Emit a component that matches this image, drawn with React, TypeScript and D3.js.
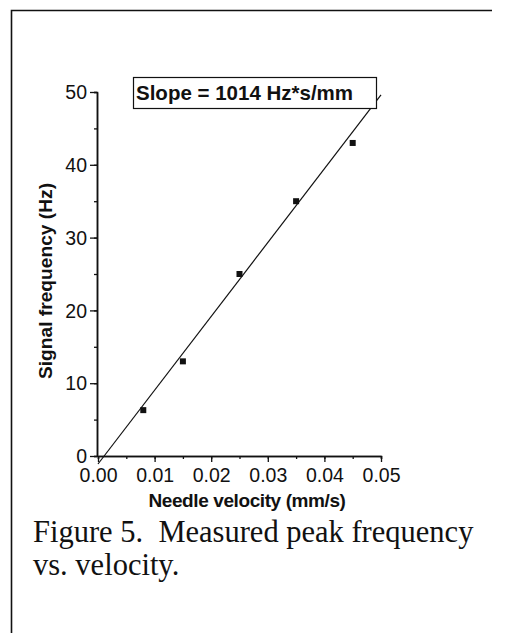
import React, { useRef, useEffect } from 'react';
import * as d3 from 'd3';

const velocities = [0.008, 0.015, 0.025, 0.035, 0.045];
const frequencies = [6.3, 13, 25, 35, 43];
const fitSlope = 1014;
const fitIntercept = -1.1;
const xTicks = [0, 0.01, 0.02, 0.03, 0.04, 0.05];
const yTicks = [0, 10, 20, 30, 40, 50];
const slopeLabel = 'Slope = 1014 Hz*s/mm';
const captionLines = ['Figure 5.  Measured peak frequency', 'vs. velocity.'];

const App = () => {
  const svgRef = useRef<SVGSVGElement>(null);

  useEffect(() => {
    const svg = d3.select(svgRef.current);
    svg.selectAll('*').remove();
    const width = 505;
    const height = 633;
    const sans = 'Arial, "Liberation Sans", Helvetica, sans-serif';
    const serif = '"Times New Roman", "Liberation Serif", serif';

    svg.append('rect').attr('width', width).attr('height', height).attr('fill', 'white');

    // page frame (only top and left edges show)
    svg.append('path')
      .attr('d', `M11.5,${height} L11.5,10.5 L492,10.5`)
      .attr('fill', 'none')
      .attr('stroke', '#111')
      .attr('stroke-width', 1.6);

    const x = d3.scaleLinear().domain([0, 0.05]).range([98, 381]);
    const y = d3.scaleLinear().domain([0, 50]).range([456, 92]);

    const minorX = d3.range(0, 0.0501, 0.005);
    const minorY = d3.range(0, 50.1, 5);

    const xAxis = svg.append('g').attr('transform', `translate(0,${y(0)})`);
    xAxis.call(d3.axisBottom(x).tickValues(minorX).tickSize(3).tickFormat(() => ''));
    xAxis.append('g').call(d3.axisBottom(x).tickValues(xTicks).tickSize(6).tickSizeOuter(0).tickFormat(d3.format('.2f')));

    const yAxis = svg.append('g').attr('transform', `translate(${x(0) - 1},0)`);
    yAxis.call(d3.axisLeft(y).tickValues(minorY).tickSize(3).tickFormat(() => ''));
    yAxis.append('g').call(d3.axisLeft(y).tickValues(yTicks).tickSize(7).tickSizeOuter(0));

    svg.selectAll('.domain').attr('stroke', '#111').attr('stroke-width', 1.5);
    svg.selectAll('.tick line').attr('stroke', '#111').attr('stroke-width', 1.3);
    svg.selectAll('.tick text')
      .attr('font-family', sans)
      .attr('font-size', 19.5)
      .attr('fill', '#111');
    xAxis.selectAll('.tick text').attr('y', 8).attr('dy', '0.9em');
    yAxis.selectAll('.tick text').attr('x', -10).attr('dy', '0.34em');

    // regression line
    const fit = d3.line<number>()
      .x(v => x(v))
      .y(v => y(fitSlope * v + fitIntercept));
    svg.append('path')
      .datum([0, 0.05])
      .attr('d', fit)
      .attr('fill', 'none')
      .attr('stroke', '#111')
      .attr('stroke-width', 1.2);

    // measured points
    svg.append('g')
      .selectAll('rect')
      .data(velocities)
      .enter()
      .append('rect')
      .attr('x', (d) => x(d) - 3)
      .attr('y', (d, i) => y(frequencies[i]) - 3)
      .attr('width', 6)
      .attr('height', 6)
      .attr('fill', '#111');

    // slope annotation box
    svg.append('rect')
      .attr('x', 133.5)
      .attr('y', 77.5)
      .attr('width', 243)
      .attr('height', 31)
      .attr('fill', 'white')
      .attr('stroke', '#111')
      .attr('stroke-width', 1.2);
    svg.append('text')
      .attr('x', 136)
      .attr('y', 99.5)
      .attr('font-family', sans)
      .attr('font-weight', 'bold')
      .attr('font-size', 20.5)
      .attr('fill', '#111')
      .text(slopeLabel);

    svg.append('text')
      .attr('transform', `translate(52,281) rotate(-90)`)
      .attr('text-anchor', 'middle')
      .attr('font-family', sans)
      .attr('font-weight', 'bold')
      .attr('font-size', 19.2)
      .attr('fill', '#111')
      .text('Signal frequency (Hz)');

    svg.append('text')
      .attr('x', 247)
      .attr('y', 507)
      .attr('text-anchor', 'middle')
      .attr('font-family', sans)
      .attr('font-weight', 'bold')
      .attr('font-size', 19)
      .attr('letter-spacing', -0.4)
      .attr('fill', '#111')
      .text('Needle velocity (mm/s)');

    svg.append('g')
      .selectAll('text')
      .data(captionLines)
      .enter()
      .append('text')
      .attr('x', 33)
      .attr('y', (d, i) => 542 + i * 33)
      .attr('font-family', serif)
      .attr('font-size', 30.5)
      .attr('fill', '#111')
      .attr('xml:space', 'preserve')
      .style('white-space', 'pre')
      .text(d => d);
  }, []);

  return (
    <svg
      ref={svgRef}
      width={505}
      height={633}
      style={{ position: 'absolute', left: 0, top: 0, display: 'block' }}
    ></svg>
  );
};

export default App;
